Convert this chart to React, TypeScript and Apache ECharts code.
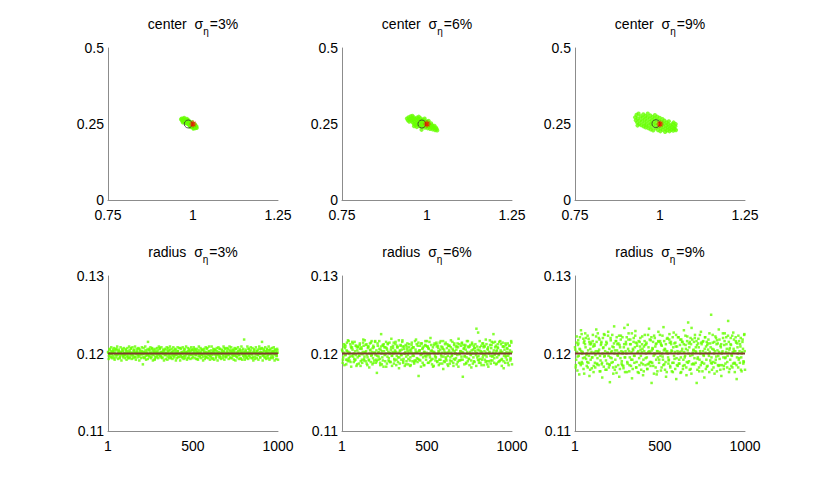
import React, { useEffect, useRef } from "react";
import * as echarts from "echarts";

// ---- data ----
const SIGMA_LABELS = ["3%", "6%", "9%"];
const TRUE_CENTER = [1.0, 0.25];
const TRUE_RADIUS = 0.12;
const MEAN_CENTERS = [
  [0.986, 0.25],
  [0.985, 0.25],
  [0.988, 0.251],
];
const X_TICKS_TOP = [0.75, 1, 1.25];
const X_TICKS_BOTTOM = [1, 500, 1000];
const SAMPLE_STEP = 5; // estimates sampled every 5th index, three interleaved sets

// center estimates (x, y)
const CLOUD_3 = [
  [0.965, 0.265], [0.968, 0.262], [0.967, 0.268], [0.970, 0.259], [0.972, 0.266], [0.973, 0.261],
  [0.975, 0.257], [0.976, 0.264], [0.978, 0.260], [0.979, 0.254], [0.980, 0.258], [0.981, 0.263],
  [0.983, 0.255], [0.984, 0.250], [0.985, 0.259], [0.986, 0.253], [0.988, 0.248], [0.988, 0.256],
  [0.989, 0.251], [0.990, 0.245], [0.991, 0.254], [0.992, 0.249], [0.993, 0.243], [0.994, 0.252],
  [0.995, 0.247], [0.996, 0.241], [0.997, 0.250], [0.998, 0.245], [0.999, 0.239], [1.000, 0.248],
  [1.001, 0.243], [1.002, 0.238], [1.003, 0.246], [1.004, 0.241], [1.006, 0.236], [1.007, 0.244],
  [1.008, 0.239], [1.010, 0.242], [1.011, 0.237], [0.974, 0.270], [0.977, 0.253], [0.982, 0.267],
  [0.987, 0.262], [0.992, 0.240], [0.997, 0.256], [1.001, 0.235], [1.005, 0.250], [0.970, 0.255],
];
const CLOUD_6 = [
  [0.941, 0.268], [0.944, 0.262], [0.946, 0.272], [0.948, 0.258], [0.950, 0.266], [0.952, 0.275],
  [0.954, 0.261], [0.956, 0.269], [0.958, 0.255], [0.959, 0.264], [0.961, 0.272], [0.962, 0.250],
  [0.963, 0.259], [0.965, 0.267], [0.966, 0.246], [0.968, 0.254], [0.969, 0.263], [0.971, 0.271],
  [0.972, 0.249], [0.974, 0.258], [0.975, 0.266], [0.977, 0.243], [0.978, 0.252], [0.979, 0.261],
  [0.981, 0.269], [0.982, 0.247], [0.983, 0.256], [0.985, 0.240], [0.986, 0.264], [0.987, 0.250],
  [0.988, 0.258], [0.990, 0.244], [0.991, 0.253], [0.992, 0.262], [0.994, 0.238], [0.995, 0.247],
  [0.996, 0.256], [0.998, 0.242], [0.999, 0.251], [1.000, 0.259], [1.002, 0.236], [1.003, 0.245],
  [1.004, 0.253], [1.006, 0.240], [1.007, 0.249], [1.009, 0.234], [1.010, 0.244], [1.012, 0.252],
  [1.013, 0.238], [1.015, 0.246], [1.017, 0.232], [1.018, 0.241], [1.020, 0.236], [1.022, 0.244],
  [1.024, 0.230], [1.026, 0.238], [1.028, 0.234], [1.030, 0.229], [0.957, 0.277], [0.970, 0.240],
  [0.984, 0.231], [0.993, 0.268], [1.005, 0.260], [0.976, 0.274], [0.962, 0.243],
];
const CLOUD_9 = [
  [0.927, 0.272], [0.929, 0.262], [0.931, 0.280], [0.933, 0.255], [0.935, 0.268], [0.937, 0.284],
  [0.939, 0.250], [0.941, 0.262], [0.943, 0.275], [0.945, 0.246], [0.947, 0.258], [0.949, 0.270],
  [0.951, 0.282], [0.952, 0.242], [0.954, 0.252], [0.955, 0.264], [0.957, 0.276], [0.958, 0.239],
  [0.960, 0.248], [0.961, 0.260], [0.963, 0.272], [0.964, 0.284], [0.966, 0.236], [0.967, 0.245],
  [0.969, 0.256], [0.970, 0.267], [0.972, 0.278], [0.973, 0.232], [0.974, 0.251], [0.976, 0.241],
  [0.977, 0.262], [0.978, 0.273], [0.980, 0.229], [0.981, 0.248], [0.982, 0.258], [0.984, 0.268],
  [0.985, 0.279], [0.987, 0.236], [0.988, 0.245], [0.989, 0.254], [0.991, 0.264], [0.992, 0.274],
  [0.994, 0.230], [0.995, 0.241], [0.996, 0.250], [0.998, 0.260], [0.999, 0.270], [1.001, 0.226],
  [1.002, 0.236], [1.004, 0.246], [1.005, 0.256], [1.007, 0.266], [1.008, 0.231], [1.010, 0.241],
  [1.011, 0.251], [1.013, 0.261], [1.015, 0.224], [1.016, 0.235], [1.018, 0.245], [1.019, 0.255],
  [1.021, 0.229], [1.023, 0.239], [1.024, 0.249], [1.026, 0.259], [1.028, 0.226], [1.029, 0.236],
  [1.031, 0.246], [1.033, 0.231], [1.035, 0.241], [1.037, 0.250], [1.039, 0.228], [1.041, 0.238],
  [1.043, 0.233], [1.045, 0.243], [1.047, 0.230], [0.934, 0.245], [1.046, 0.250], [1.040, 0.255],
];

// radius estimate deviations from true radius, units of 1e-4
// set A: sample indices 1, 6, 11, ... ; set B: 3, 8, 13, ... ; set C: 5, 10, 15, ...
const R_DEV_3A = [
  2, -3, 5, 0, -4, 1, 3, -6, 4, -1, 6, -2, 0, 3, -5, 2, -1, 4, -3, 1,
  -2, 5, -4, 3, 0, -6, 2, 7, -1, -3, 4, 1, -5, 0, 3, -2, 6, -4, 1, -1,
  3, -14, 2, -5, 4, 0, -2, 15, -3, 5, 1, -4, 6, -1, 2, -7, 3, 0, -3, 4,
  -1, 6, -3, 2, -5, 1, 4, -2, 0, 8, -4, 3, -1, 5, -6, 2, 0, -3, 4, -2,
  5, -1, 3, -4, 0, 7, -2, 1, -5, 3, 6, -3, 0, 2, -6, 4, -1, 3, -2, 5,
  -4, 1, 6, -2, 3, -7, 0, 4, -3, 2, 5, -1, -4, 3, 0, -5, 6, 1, -2, 3,
  -3, 4, 0, -6, 2, 5, -1, -4, 3, 1, -2, 6, -5, 0, 4, -3, 2, 7, -1, -4,
  3, 0, -2, 5, -6, 1, 4, -3, 2, -1, 6, -4, 0, 3, -2, 5, -7, 1, 4, -3,
  18, -2, 3, -5, 1, 6, -3, 0, 4, -1, -6, 2, 5, -4, 1, 3, -2, 0, 6, -5,
  2, 15, -3, 4, -1, -5, 3, 6, -2, 0, 4, -6, 1, 3, -4, 2, 5, -1, -3, 4,
];
const R_DEV_3B = [
  1, -2, 0, 3, -1, 2, -3, 1, 0, -2, 4, -1, 2, 0, -3, 1, -1, 3, -2, 0,
  -1, 2, 0, -3, 1, 4, -2, 0, 1, -1, 3, -4, 0, 2, -1, 1, -2, 3, 0, -1,
  2, -1, 0, 1, -3, 2, 0, -2, 4, 1, -1, 0, 3, -2, 1, -4, 0, 2, -1, 1,
  0, -3, 2, 1, -1, 3, 0, -2, 1, -1, 2, 4, -3, 0, 1, -2, 3, -1, 0, 2,
  -2, 1, 3, 0, -1, -4, 2, 1, 0, -3, 1, 2, -1, 0, 3, -2, 1, -1, 4, 0,
  -1, 3, 0, -2, 1, 2, -3, 0, 1, -1, -2, 4, 0, 1, -3, 2, -1, 0, 3, -2,
  1, 0, -2, 3, -1, 1, 4, -2, 0, -1, 2, -3, 1, 0, 2, -1, 3, -4, 0, 1,
  -2, 1, 0, 3, -1, 2, -2, 0, 4, -3, 1, -1, 2, 0, -2, 3, 1, -1, 0, 2,
  -1, 2, -3, 0, 1, -2, 3, 1, -1, 0, -4, 2, 0, 1, -1, 3, -2, 0, 2, -1,
  0, 1, -2, 3, -1, 0, 2, -3, 1, 4, -1, 0, -2, 1, 3, -1, 0, 2, -3, 1,
];
const R_DEV_3C = [
  -7, 6, -5, 8, -6, 5, 7, -8, 6, -5, 9, -7, 5, -6, 8, -9, 6, -5, 7, -6,
  5, -8, 7, -6, 9, -5, 6, -7, 8, -6, 5, 9, -8, 6, -5, 7, -9, 5, -6, 8,
  -5, 7, -6, 9, -8, 5, -7, 6, -5, 8, -6, 7, -9, 5, -8, 6, -5, 7, -6, 9,
  7, -5, 8, -6, 5, -9, 6, -7, 5, -8, 7, -6, 9, -5, 6, -7, 8, -5, 6, -9,
  -6, 8, -5, 7, -9, 6, -5, 8, -7, 5, -6, 9, -8, 7, -5, 6, -7, 8, -6, 5,
  8, -6, 5, -7, 6, -8, 9, -5, 7, -6, 5, -9, 6, -7, 8, -5, 7, -6, 9, -8,
  -5, 9, -7, 6, -8, 5, -6, 7, -9, 8, -5, 6, -7, 5, -6, 9, -8, 6, -5, 7,
  6, -7, 9, -5, 8, -6, 5, -8, 7, -9, 6, -5, 8, -7, 5, -6, 9, -8, 6, -5,
  -8, 5, -6, 9, -7, 6, -5, 8, -6, 7, -9, 5, -7, 8, -6, 5, -8, 9, -5, 6,
  7, -9, 6, -5, 8, -7, 5, -6, 9, -8, 6, -5, 7, -6, 8, -9, 5, -7, 6, -8,
];
const R_DEV_6A = [
  5, -8, 12, -2, 9, -14, 3, 17, -6, 1, -11, 7, 15, -4, 0, -9, 10, -16, 4, 8,
  -3, 13, -10, 6, -1, 18, -7, 2, 11, -13, -5, 9, -18, 4, 14, -2, 7, -12, 1, 16,
  -8, -25, 10, -4, 6, -15, 25, 3, -9, 12, -1, 8, -17, 5, 13, -6, 0, -11, 19, -3,
  7, -13, 2, 15, -8, 10, -5, -19, 4, 11, -2, 17, -10, 6, 0, -14, 9, 3, -7, 12,
  -16, 5, 14, -3, 8, -11, 1, 18, -6, 10, -29, 4, -9, 13, -1, 7, -15, 2, 16, -4,
  9, -12, 6, -2, 20, -8, 3, -17, 11, 0, -5, 14, -10, 7, 2, -13, 16, -4, 8, -20,
  5, 12, -7, 1, -14, 10, 4, -9, 17, -3, 6, -16, 13, 0, -6, 9, -11, 19, -1, 3,
  -8, 14, -30, 6, -4, 11, -13, 2, 16, -7, 9, -1, -18, 12, 5, -10, 7, 0, 32, -5,
  27, -12, 8, 3, -15, 13, -2, 10, -8, 18, -4, 6, -17, 1, 11, -9, 15, -3, 25, -6,
  8, -14, 4, 12, -1, -10, 16, 2, -7, 9, -19, 5, 13, -3, 7, -12, 0, 10, -6, 14,
];
const R_DEV_6B = [
  3, -5, 1, 7, -2, 4, -8, 2, 0, -4, 9, -3, 5, -1, -7, 3, -2, 8, -5, 1,
  -3, 6, 0, -8, 2, 10, -4, 1, 3, -2, 7, -9, 0, 5, -3, 2, -6, 8, 1, -2,
  4, -3, 1, 2, -7, 5, 0, -5, 10, 3, -2, 0, 7, -4, 2, -10, 1, 5, -3, 2,
  0, -7, 4, 2, -3, 8, 1, -5, 3, -2, 5, 9, -7, 0, 2, -4, 6, -2, 1, 4,
  -5, 2, 7, 0, -3, -9, 5, 2, 1, -7, 3, 4, -2, 0, 6, -5, 2, -3, 10, 1,
  -2, 7, 0, -5, 3, 4, -7, 1, 2, -3, -5, 9, 0, 3, -8, 5, -2, 1, 6, -4,
  2, 0, -5, 7, -3, 2, 10, -5, 1, -2, 4, -7, 3, 0, 5, -2, 8, -9, 0, 3,
  -4, 2, 1, 7, -3, 5, -5, 0, 9, -7, 2, -2, 4, 0, -5, 7, 3, -2, 1, 5,
  -3, 4, -7, 0, 2, -5, 8, 3, -2, 1, -10, 5, 0, 2, -3, 7, -4, 1, 4, -2,
  0, 3, -5, 7, -2, 1, 4, -8, 2, 9, -3, 0, -5, 2, 6, -3, 1, 4, -7, 2,
];
const R_DEV_6C = [
  -12, 9, -15, 11, -8, 14, -10, 16, -9, 12, -17, 8, 13, -11, 15, -8, 10, -14, 9, -13,
  11, -16, 8, -12, 14, -9, 17, -10, 12, -15, 9, -8, 13, -11, 16, -14, 10, -9, 15, -12,
  -10, 13, -8, 16, -12, 9, -14, 11, -17, 8, -10, 15, -13, 12, -9, 14, -11, 8, -16, 10,
  14, -9, 12, -15, 8, -11, 17, -13, 10, -8, 15, -12, 9, -16, 11, -10, 13, -14, 8, -9,
  -15, 11, -10, 8, -13, 16, -9, 12, -11, 14, -8, 10, -17, 13, -12, 9, -15, 11, -8, 16,
  9, -12, 15, -10, 11, -14, 8, -16, 13, -9, 12, -11, 10, -15, 14, -8, 9, -13, 16, -10,
  -11, 14, -9, 12, -16, 10, -13, 8, -10, 15, -12, 11, -8, 9, -14, 13, -17, 12, -9, 10,
  13, -8, 11, -14, 9, -12, 16, -10, 8, -15, 11, -9, 14, -13, 10, -11, 12, -16, 9, -8,
  -9, 16, -12, 10, -8, 13, -15, 9, -11, 12, -14, 8, -10, 17, -13, 11, -9, 14, -12, 15,
  10, -13, 8, -11, 15, -9, 12, -16, 14, -10, 9, -12, 11, -8, 13, -15, 10, -9, 16, -14,
];
const R_DEV_9A = [
  8, -15, 22, -4, 13, -27, 5, 30, -11, 2, -20, 16, 26, -7, 0, -18, 19, -29, 6, 12,
  -5, 24, -16, 10, -2, 31, -13, 3, 20, -23, -9, 15, -31, 7, 25, -3, 11, -21, 1, 28,
  -14, -37, 17, -6, 9, -26, 35, 4, -17, 21, -2, 13, -30, 8, 23, -10, 0, -19, 33, -5,
  12, -24, 37, 26, -15, 18, -8, -32, 6, 20, -3, 29, -18, 10, 1, -25, 15, 5, -12, 22,
  -28, 9, 24, -6, 14, -20, 2, 32, -11, 17, -38, 7, -16, 23, -1, 12, -27, 3, 28, -8,
  16, -22, 10, -4, 34, -14, 5, -30, 19, 0, -9, 25, -18, 12, 3, -24, 27, -7, 14, -33,
  9, 21, -13, 2, -25, 18, 6, -16, 30, -5, 11, -28, 22, 40, -10, 15, -20, 33, -2, 4,
  -14, 24, 8, -38, -7, 19, -23, 3, 28, -12, 15, -2, -31, 21, 9, -17, 13, 0, 26, -9,
  50, -21, 14, 5, -26, 22, -4, 17, -15, 31, -7, 10, -29, 1, 20, -16, 26, -5, 12, -11,
  42, -24, 7, 20, -2, -18, 27, 3, -13, 16, -33, 8, 23, -6, 12, -21, 0, 18, -10, 25,
];
const R_DEV_9B = [
  5, -8, 2, 11, -3, 6, -13, 3, 0, -6, 14, -5, 8, -2, -11, 4, -3, 12, -8, 2,
  -5, 9, 1, -12, 3, 15, -6, 2, 5, -3, 11, -14, 0, 8, -4, 3, -9, 13, 1, -3,
  6, -5, 2, 3, -11, 8, 0, -8, 16, 4, -3, 1, 11, -6, 3, -15, 2, 8, -5, 3,
  0, -11, 6, 3, -5, 12, 2, -8, 4, -3, 8, 14, -11, 1, 3, -6, 9, -3, 2, 6,
  -8, 3, 11, 0, -5, -14, 8, 3, 2, -11, 4, 6, -3, 0, 9, -8, 3, -5, 15, 2,
  -3, 11, 0, -8, 4, 6, -11, 2, 3, -5, -8, 14, 1, 4, -12, 8, -3, 2, 9, -6,
  3, 0, -8, 11, -5, 3, 15, -8, 2, -3, 6, -11, 4, 0, 8, -3, 12, -14, 1, 5,
  -6, 3, 2, 11, -5, 8, -8, 0, 14, -11, 3, -3, 6, 1, -8, 11, 5, -3, 2, 8,
  -5, 6, -11, 0, 3, -8, 12, 4, -3, 2, -15, 8, 0, 3, -5, 11, -6, 2, 6, -3,
  1, 5, -8, 11, -3, 2, 6, -12, 3, 14, -5, 0, -8, 3, 9, -5, 2, 6, -11, 3,
];
const R_DEV_9C = [
  -18, 14, -22, 17, -12, 21, -15, 25, -13, 19, -26, 12, 20, -16, 23, -12, 15, -21, 14, -19,
  16, -24, 12, -18, 22, -14, 26, -15, 18, -23, 13, -12, 20, -17, 24, -21, 15, -13, 23, -18,
  -15, 20, -12, 24, -18, 13, -21, 16, -25, 12, -15, 23, -20, 18, -13, 21, -16, 12, -24, 15,
  21, -13, 18, -23, 12, -16, 26, -20, 15, -12, 23, -18, 13, -24, 16, -15, 20, -21, 12, -14,
  -23, 16, -15, 12, -20, 24, -13, 18, -16, 21, -12, 15, -26, 20, -18, 13, -23, 16, -12, 24,
  13, -18, 23, -15, 16, -21, 12, -24, 20, -13, 18, -16, 15, -23, 21, -12, 13, -20, 24, -15,
  -16, 21, -13, 18, -24, 15, -20, 12, -15, 23, -18, 16, -12, 13, -21, 20, -26, 18, -13, 15,
  20, -12, 16, -21, 13, -18, 24, -15, 12, -23, 16, -13, 21, -20, 15, -16, 18, -24, 13, -12,
  -13, 24, -18, 15, -12, 20, -23, 13, -16, 18, -21, 12, -15, 26, -20, 16, -13, 21, -18, 23,
  15, -20, 12, -16, 23, -13, 18, -24, 21, -15, 13, -18, 16, -12, 20, -23, 15, -13, 24, -21,
];

const CLOUDS = [CLOUD_3, CLOUD_6, CLOUD_9];
const R_DEV_SETS = [
  [R_DEV_3A, R_DEV_3B, R_DEV_3C],
  [R_DEV_6A, R_DEV_6B, R_DEV_6C],
  [R_DEV_9A, R_DEV_9B, R_DEV_9C],
];
const SET_OFFSETS = [1, 3, 5];

// ---- layout / style ----
const LEFTS = [108, 342, 575];
const PW = 170;
const TOP_ROW = { top: 48, height: 152 };
const BOT_ROW = { top: 276, height: 155 };
const FONT = "'Liberation Sans', Arial, Helvetica, sans-serif";
const GREEN = "#66ff00";
const AXIS_COLOR = "#8c8c8c";
const ASTERISK = "path://M0,5L10,5M5,0L5,10M1.5,1.5L8.5,8.5M8.5,1.5L1.5,8.5";

export default function App() {
  const ref = useRef<HTMLDivElement>(null);
  useEffect(() => {
    if (!ref.current) return;
    const chart = echarts.init(ref.current, null, { renderer: "svg" });

    const grids: any[] = [];
    const xAxes: any[] = [];
    const yAxes: any[] = [];
    const series: any[] = [];
    const titles: any[] = [];

    const axisBase = {
      axisLine: { show: true, onZero: false, lineStyle: { color: AXIS_COLOR, width: 1 } },
      axisTick: { show: false },
      splitLine: { show: false },
    };
    const labelBase = { color: "#000", fontSize: 14, fontFamily: FONT };

    for (let row = 0; row < 2; row++) {
      for (let col = 0; col < 3; col++) {
        const gi = row * 3 + col;
        const r = row === 0 ? TOP_ROW : BOT_ROW;
        grids.push({ left: LEFTS[col], top: r.top, width: PW, height: r.height });
        titles.push({
          text: (row === 0 ? "center" : "radius") + "  σ{s|η}=" + SIGMA_LABELS[col],
          left: LEFTS[col] + PW / 2 - 5,
          top: r.top - 41,
          textAlign: "center",
          textStyle: {
            fontSize: 14,
            fontWeight: "normal",
            fontFamily: FONT,
            color: "#000",
            rich: { s: { fontSize: 10, fontFamily: FONT, color: "#000", padding: [14, 1, 0, 0] } },
          },
        });
        if (row === 0) {
          xAxes.push({
            ...axisBase,
            type: "value",
            gridIndex: gi,
            min: X_TICKS_TOP[0],
            max: X_TICKS_TOP[2],
            interval: 0.25,
            axisLabel: { ...labelBase, margin: 8 },
          });
          yAxes.push({
            ...axisBase,
            type: "value",
            gridIndex: gi,
            min: 0,
            max: 0.5,
            interval: 0.25,
            axisLabel: { ...labelBase, margin: 4 },
          });
          series.push({
            type: "scatter",
            xAxisIndex: gi,
            yAxisIndex: gi,
            symbol: "circle",
            symbolSize: 4.2,
            itemStyle: { color: GREEN },
            data: CLOUDS[col],
            z: 2,
          });
          series.push({
            type: "scatter",
            xAxisIndex: gi,
            yAxisIndex: gi,
            symbol: "circle",
            symbolSize: 8,
            itemStyle: { color: "none", borderColor: "#333", borderWidth: 1 },
            data: [MEAN_CENTERS[col]],
            z: 3,
          });
          series.push({
            type: "scatter",
            xAxisIndex: gi,
            yAxisIndex: gi,
            symbol: ASTERISK,
            symbolSize: 7,
            itemStyle: { color: "none", borderColor: "#ff0000", borderWidth: 1.2 },
            data: [TRUE_CENTER],
            z: 4,
          });
        } else {
          xAxes.push({
            ...axisBase,
            type: "value",
            gridIndex: gi,
            min: X_TICKS_BOTTOM[0],
            max: X_TICKS_BOTTOM[2],
            axisLabel: {
              ...labelBase,
              margin: 8,
              customValues: X_TICKS_BOTTOM,
              formatter: (v: number) => String(v),
            },
          });
          yAxes.push({
            ...axisBase,
            type: "value",
            gridIndex: gi,
            min: 0.11,
            max: 0.13,
            interval: 0.01,
            axisLabel: { ...labelBase, margin: 4, formatter: (v: number) => v.toFixed(2) },
          });
          const pts: number[][] = [];
          R_DEV_SETS[col].forEach((set, s) => {
            set.forEach((d, k) => {
              pts.push([SET_OFFSETS[s] + SAMPLE_STEP * k, TRUE_RADIUS + d * 1e-4]);
            });
          });
          series.push({
            type: "scatter",
            xAxisIndex: gi,
            yAxisIndex: gi,
            symbol: "rect",
            symbolSize: 2.5,
            itemStyle: { color: GREEN },
            data: pts,
            z: 2,
          });
          series.push({
            type: "line",
            xAxisIndex: gi,
            yAxisIndex: gi,
            symbol: "none",
            lineStyle: { color: "#7e3a2e", width: 2.2 },
            data: [
              [X_TICKS_BOTTOM[0], TRUE_RADIUS],
              [X_TICKS_BOTTOM[2], TRUE_RADIUS],
            ],
            z: 3,
          });
        }
      }
    }

    chart.setOption({
      animation: false,
      backgroundColor: "#fff",
      title: titles,
      grid: grids,
      xAxis: xAxes,
      yAxis: yAxes,
      series,
    });
    return () => chart.dispose();
  }, []);

  return (
    <div
      ref={ref}
      style={{ position: "fixed", left: 0, top: 0, width: 830, height: 483, background: "#fff" }}
    />
  );
}
